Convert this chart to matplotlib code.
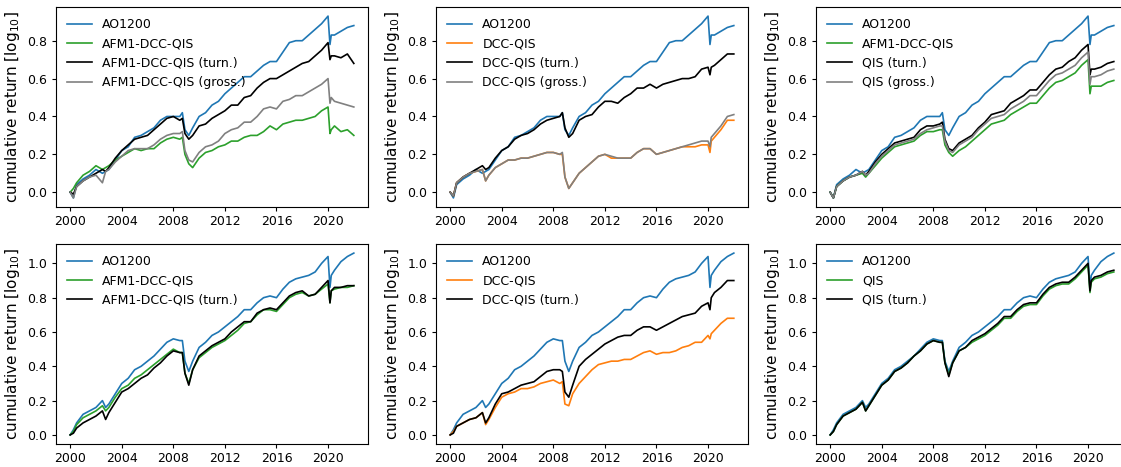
import numpy as np
import matplotlib.pyplot as plt

plt.rcParams.update({
    "font.size": 9,
    "axes.labelsize": 11,
    "xtick.labelsize": 9,
    "ytick.labelsize": 9,
    "legend.fontsize": 9,
    "xtick.major.size": 3.2,
    "ytick.major.size": 3.2,
    "xtick.major.pad": 2.5,
    "ytick.major.pad": 3.0,
})

# decimal years, semi-annual with extra points around the 2002/2008/2020 drops
dates = [2000.0, 2000.25, 2000.5, 2001.0, 2001.5, 2002.0, 2002.5, 2002.75, 2003.0, 2003.5,
         2004.0, 2004.5, 2005.0, 2005.5, 2006.0, 2006.5, 2007.0, 2007.5, 2008.0, 2008.5,
         2008.7, 2008.9, 2009.2, 2009.5, 2010.0, 2010.5, 2011.0, 2011.5, 2012.0, 2012.5,
         2013.0, 2013.5, 2014.0, 2014.5, 2015.0, 2015.5, 2016.0, 2016.5, 2017.0, 2017.5,
         2018.0, 2018.5, 2019.0, 2019.5, 2020.0, 2020.15, 2020.25, 2020.5, 2021.0, 2021.5,
         2022.0]

# --- top row ---
ao_top = [0.00, -0.03, 0.04, 0.07, 0.09, 0.12, 0.10, 0.11, 0.12, 0.17,
          0.22, 0.24, 0.29, 0.30, 0.32, 0.34, 0.38, 0.40, 0.40, 0.40,
          0.42, 0.33, 0.30, 0.34, 0.40, 0.42, 0.46, 0.48, 0.52, 0.55,
          0.58, 0.61, 0.61, 0.64, 0.67, 0.69, 0.69, 0.74, 0.79, 0.80,
          0.80, 0.83, 0.86, 0.89, 0.93, 0.78, 0.83, 0.83, 0.85, 0.87,
          0.88]
afm_top = [0.00, 0.02, 0.05, 0.09, 0.11, 0.14, 0.12, 0.13, 0.14, 0.17,
           0.19, 0.21, 0.23, 0.22, 0.23, 0.23, 0.26, 0.28, 0.29, 0.28,
           0.29, 0.20, 0.15, 0.13, 0.18, 0.21, 0.22, 0.24, 0.25, 0.27,
           0.27, 0.29, 0.30, 0.30, 0.32, 0.35, 0.33, 0.36, 0.37, 0.38,
           0.38, 0.39, 0.40, 0.43, 0.45, 0.31, 0.33, 0.35, 0.32, 0.33,
           0.30]
afm_turn_top = [0.00, -0.01, 0.03, 0.06, 0.08, 0.10, 0.12, 0.11, 0.13, 0.18,
                0.22, 0.25, 0.28, 0.29, 0.30, 0.33, 0.36, 0.39, 0.40, 0.38,
                0.39, 0.31, 0.28, 0.30, 0.35, 0.36, 0.39, 0.41, 0.43, 0.46,
                0.46, 0.50, 0.51, 0.55, 0.58, 0.60, 0.60, 0.62, 0.64, 0.66,
                0.68, 0.69, 0.72, 0.75, 0.79, 0.70, 0.72, 0.72, 0.71, 0.73,
                0.68]
afm_gross_top = [0.00, -0.03, 0.03, 0.06, 0.08, 0.09, 0.05, 0.11, 0.12, 0.16,
                 0.19, 0.22, 0.23, 0.23, 0.23, 0.25, 0.28, 0.30, 0.31, 0.31,
                 0.32, 0.22, 0.17, 0.16, 0.21, 0.24, 0.25, 0.27, 0.31, 0.33,
                 0.34, 0.37, 0.37, 0.40, 0.44, 0.45, 0.44, 0.48, 0.49, 0.51,
                 0.51, 0.53, 0.55, 0.57, 0.60, 0.47, 0.50, 0.48, 0.47, 0.46,
                 0.45]
dcc_top = [0.00, -0.02, 0.05, 0.08, 0.10, 0.11, 0.12, 0.06, 0.09, 0.13,
           0.15, 0.17, 0.17, 0.18, 0.18, 0.19, 0.20, 0.21, 0.21, 0.20,
           0.20, 0.08, 0.02, 0.05, 0.10, 0.13, 0.16, 0.19, 0.20, 0.18,
           0.18, 0.18, 0.18, 0.21, 0.23, 0.23, 0.20, 0.21, 0.22, 0.23,
           0.24, 0.24, 0.24, 0.25, 0.25, 0.21, 0.27, 0.29, 0.33, 0.38,
           0.38]
dcc_turn_top = [0.00, -0.02, 0.05, 0.08, 0.10, 0.12, 0.14, 0.12, 0.13, 0.18,
                0.22, 0.24, 0.28, 0.30, 0.31, 0.33, 0.36, 0.38, 0.39, 0.40,
                0.42, 0.34, 0.29, 0.31, 0.38, 0.40, 0.41, 0.45, 0.48, 0.48,
                0.47, 0.50, 0.52, 0.55, 0.55, 0.57, 0.55, 0.57, 0.58, 0.59,
                0.60, 0.60, 0.61, 0.65, 0.66, 0.62, 0.66, 0.67, 0.70, 0.73,
                0.73]
dcc_gross_top = [0.00, -0.02, 0.05, 0.08, 0.10, 0.11, 0.12, 0.06, 0.09, 0.13,
                 0.15, 0.17, 0.17, 0.18, 0.18, 0.19, 0.20, 0.21, 0.21, 0.20,
                 0.21, 0.08, 0.02, 0.05, 0.10, 0.13, 0.16, 0.19, 0.20, 0.19,
                 0.18, 0.18, 0.18, 0.21, 0.23, 0.23, 0.20, 0.21, 0.22, 0.23,
                 0.24, 0.25, 0.26, 0.27, 0.27, 0.24, 0.29, 0.31, 0.35, 0.40,
                 0.41]
qis_top = [0.00, -0.03, 0.03, 0.06, 0.08, 0.09, 0.10, 0.08, 0.10, 0.14,
           0.18, 0.21, 0.24, 0.25, 0.26, 0.27, 0.30, 0.32, 0.32, 0.33,
           0.33, 0.25, 0.21, 0.19, 0.22, 0.24, 0.27, 0.30, 0.33, 0.36,
           0.37, 0.38, 0.41, 0.43, 0.45, 0.47, 0.47, 0.51, 0.55, 0.58,
           0.59, 0.61, 0.63, 0.67, 0.70, 0.52, 0.56, 0.56, 0.56, 0.58,
           0.59]
qis_turn_top = [0.00, -0.03, 0.03, 0.06, 0.08, 0.09, 0.11, 0.09, 0.11, 0.16,
                0.20, 0.23, 0.26, 0.27, 0.28, 0.29, 0.33, 0.35, 0.35, 0.36,
                0.37, 0.28, 0.23, 0.22, 0.26, 0.28, 0.30, 0.34, 0.37, 0.41,
                0.42, 0.43, 0.47, 0.49, 0.51, 0.54, 0.54, 0.58, 0.62, 0.65,
                0.66, 0.69, 0.71, 0.75, 0.78, 0.62, 0.65, 0.65, 0.66, 0.68,
                0.69]
qis_gross_top = [0.00, -0.03, 0.03, 0.06, 0.08, 0.09, 0.11, 0.09, 0.10, 0.15,
                 0.19, 0.22, 0.25, 0.26, 0.27, 0.28, 0.31, 0.33, 0.34, 0.35,
                 0.35, 0.27, 0.22, 0.21, 0.25, 0.27, 0.29, 0.33, 0.36, 0.39,
                 0.40, 0.41, 0.44, 0.46, 0.48, 0.51, 0.51, 0.55, 0.59, 0.62,
                 0.63, 0.65, 0.67, 0.71, 0.74, 0.57, 0.61, 0.61, 0.62, 0.64,
                 0.65]

# --- bottom row ---
ao_bot = [0.00, 0.03, 0.07, 0.12, 0.14, 0.16, 0.20, 0.16, 0.18, 0.24,
          0.30, 0.33, 0.38, 0.40, 0.43, 0.46, 0.50, 0.54, 0.56, 0.55,
          0.55, 0.43, 0.37, 0.43, 0.51, 0.54, 0.58, 0.60, 0.63, 0.66,
          0.69, 0.73, 0.73, 0.77, 0.80, 0.81, 0.80, 0.85, 0.89, 0.91,
          0.92, 0.93, 0.95, 1.00, 1.04, 0.86, 0.93, 0.96, 1.01, 1.04,
          1.06]
afm_bot = [0.00, 0.02, 0.06, 0.10, 0.12, 0.14, 0.17, 0.14, 0.16, 0.22,
           0.27, 0.29, 0.33, 0.35, 0.38, 0.41, 0.44, 0.47, 0.50, 0.48,
           0.48, 0.36, 0.30, 0.38, 0.45, 0.48, 0.51, 0.53, 0.55, 0.58,
           0.61, 0.65, 0.66, 0.70, 0.73, 0.73, 0.72, 0.76, 0.80, 0.82,
           0.83, 0.81, 0.82, 0.85, 0.88, 0.77, 0.84, 0.85, 0.86, 0.86,
           0.87]
afm_turn_bot = [0.00, 0.01, 0.04, 0.07, 0.09, 0.11, 0.14, 0.09, 0.13, 0.19,
                0.25, 0.27, 0.30, 0.33, 0.35, 0.39, 0.42, 0.46, 0.49, 0.48,
                0.48, 0.36, 0.29, 0.38, 0.46, 0.49, 0.52, 0.54, 0.56, 0.60,
                0.63, 0.66, 0.66, 0.71, 0.73, 0.74, 0.73, 0.77, 0.81, 0.83,
                0.84, 0.81, 0.82, 0.86, 0.90, 0.77, 0.84, 0.86, 0.86, 0.87,
                0.87]
dcc_bot = [0.00, 0.02, 0.05, 0.07, 0.09, 0.10, 0.13, 0.06, 0.09, 0.16,
           0.22, 0.24, 0.25, 0.27, 0.27, 0.28, 0.30, 0.31, 0.32, 0.30,
           0.31, 0.18, 0.17, 0.24, 0.30, 0.34, 0.38, 0.41, 0.42, 0.43,
           0.43, 0.44, 0.44, 0.46, 0.48, 0.49, 0.47, 0.48, 0.48, 0.49,
           0.51, 0.52, 0.54, 0.54, 0.58, 0.56, 0.59, 0.61, 0.65, 0.68,
           0.68]
dcc_turn_bot = [0.00, 0.01, 0.05, 0.07, 0.09, 0.10, 0.13, 0.07, 0.10, 0.18,
                0.24, 0.25, 0.27, 0.29, 0.30, 0.31, 0.34, 0.37, 0.38, 0.38,
                0.37, 0.25, 0.22, 0.29, 0.40, 0.44, 0.47, 0.50, 0.53, 0.55,
                0.57, 0.58, 0.58, 0.61, 0.63, 0.63, 0.61, 0.63, 0.65, 0.67,
                0.69, 0.70, 0.71, 0.75, 0.77, 0.73, 0.80, 0.83, 0.86, 0.90,
                0.90]
qis_bot = [0.00, 0.02, 0.06, 0.11, 0.13, 0.15, 0.19, 0.14, 0.17, 0.23,
           0.29, 0.32, 0.37, 0.39, 0.42, 0.46, 0.49, 0.53, 0.55, 0.54,
           0.54, 0.42, 0.35, 0.42, 0.49, 0.51, 0.54, 0.56, 0.58, 0.61,
           0.64, 0.68, 0.68, 0.72, 0.75, 0.76, 0.76, 0.81, 0.85, 0.87,
           0.88, 0.88, 0.91, 0.95, 0.99, 0.83, 0.89, 0.91, 0.92, 0.94,
           0.95]
qis_turn_bot = [0.00, 0.02, 0.06, 0.11, 0.13, 0.15, 0.19, 0.14, 0.17, 0.23,
                0.29, 0.32, 0.37, 0.39, 0.42, 0.46, 0.49, 0.53, 0.55, 0.54,
                0.54, 0.42, 0.34, 0.42, 0.49, 0.51, 0.55, 0.57, 0.59, 0.62,
                0.65, 0.69, 0.69, 0.73, 0.76, 0.77, 0.77, 0.82, 0.86, 0.88,
                0.89, 0.89, 0.92, 0.96, 1.00, 0.84, 0.90, 0.92, 0.93, 0.95,
                0.96]

C_AO = '#1f77b4'
C_GREEN = '#2ca02c'
C_ORANGE = '#ff7f0e'
C_GRAY = 'gray'

panels = [
    [(ao_top, C_AO, "AO1200"), (afm_top, C_GREEN, "AFM1-DCC-QIS"),
     (afm_turn_top, 'black', "AFM1-DCC-QIS (turn.)"), (afm_gross_top, C_GRAY, "AFM1-DCC-QIS (gross.)")],
    [(ao_top, C_AO, "AO1200"), (dcc_top, C_ORANGE, "DCC-QIS"),
     (dcc_turn_top, 'black', "DCC-QIS (turn.)"), (dcc_gross_top, C_GRAY, "DCC-QIS (gross.)")],
    [(ao_top, C_AO, "AO1200"), (qis_top, C_GREEN, "AFM1-DCC-QIS"),
     (qis_turn_top, 'black', "QIS (turn.)"), (qis_gross_top, C_GRAY, "QIS (gross.)")],
    [(ao_bot, C_AO, "AO1200"), (afm_bot, C_GREEN, "AFM1-DCC-QIS"),
     (afm_turn_bot, 'black', "AFM1-DCC-QIS (turn.)")],
    [(ao_bot, C_AO, "AO1200"), (dcc_bot, C_ORANGE, "DCC-QIS"),
     (dcc_turn_bot, 'black', "DCC-QIS (turn.)")],
    [(ao_bot, C_AO, "AO1200"), (qis_bot, C_GREEN, "QIS"),
     (qis_turn_bot, 'black', "QIS (turn.)")],
]

W, H = 1121, 467
fig = plt.figure(figsize=(W / 100, H / 100), dpi=100)

# axes boxes in pixels (left, top); right column runs past the edge like the reference
col_left = [56, 436, 816]
row_top = [7, 244]
ax_w, ax_h = 312, 200

for k, series in enumerate(panels):
    r, c = divmod(k, 3)
    x0 = col_left[c] / W
    y0 = 1 - (row_top[r] + ax_h) / H
    ax = fig.add_axes([x0, y0, ax_w / W, ax_h / H])
    for vals, col, lab in series:
        ax.plot(dates, vals, color=col, lw=1.2, label=lab)
    ax.set_xticks(range(2000, 2021, 4))
    ax.set_ylabel(r"cumulative return [log$_{10}$]")
    ax.legend(loc='upper left', frameon=False)

fig.savefig("out.png", dpi=100)
